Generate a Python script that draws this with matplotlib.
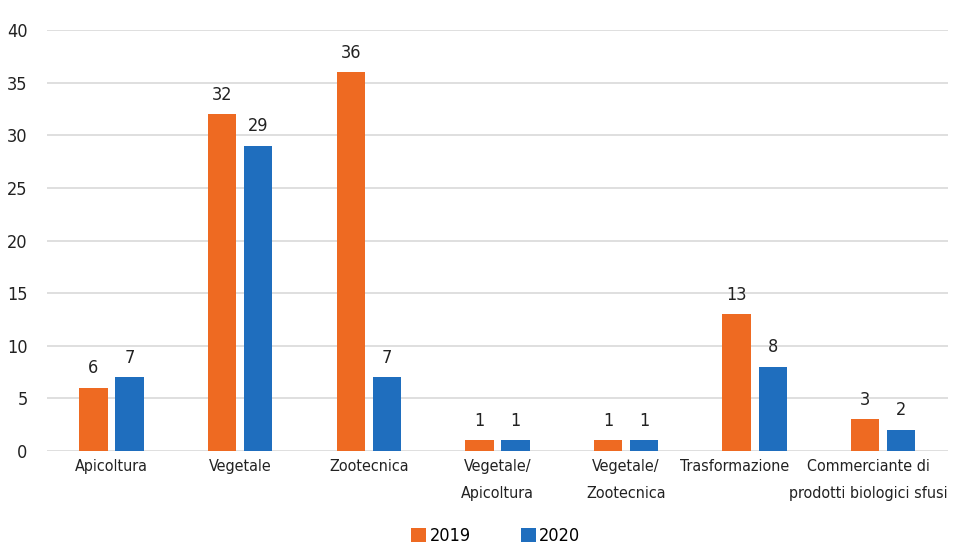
import matplotlib
matplotlib.use("Agg")
import matplotlib.pyplot as plt
import matplotlib.transforms as mtransforms
import numpy as np
from matplotlib import font_manager

categories = ["Apicoltura", "Vegetale", "Zootecnica", "Vegetale/\nApicoltura",
              "Vegetale/\nZootecnica", "Trasformazione",
              "Commerciante di\nprodotti biologici sfusi"]
values_2019 = [6, 32, 36, 1, 1, 13, 3]
values_2020 = [7, 29, 7, 1, 1, 8, 2]
series_labels = ["2019", "2020"]
y_ticks = [0, 5, 10, 15, 20, 25, 30, 35, 40]

condensed = [f for f in font_manager.fontManager.ttflist
             if f.name == "DejaVu Sans" and f.stretch == "condensed" and f.style == "normal"]
if condensed:
    fp_path = sorted(condensed, key=lambda f: str(f.weight))[0].fname
    font = font_manager.FontProperties(fname=fp_path)
else:
    font = font_manager.FontProperties(family="DejaVu Sans")
FS = 13

orange = "#EE6A22"
blue = "#1F6EBE"
text_col = "#222222"

fig = plt.figure(figsize=(9.63, 5.51), dpi=100)
ax = fig.add_axes([0.049, 0.1815, 0.935, 0.764])

x = np.arange(len(categories))
w = 0.22
gap = 0.06
b1 = ax.bar(x - (w + gap) / 2, values_2019, width=w, color=orange, label=series_labels[0], zorder=3)
b2 = ax.bar(x + (w + gap) / 2, values_2020, width=w, color=blue, label=series_labels[1], zorder=3)

for bars, vals in ((b1, values_2019), (b2, values_2020)):
    for r, v in zip(bars, vals):
        ax.text(r.get_x() + r.get_width() / 2, v + 1.0, str(v), ha="center", va="bottom",
                fontproperties=font, fontsize=FS, color=text_col)

ax.set_xlim(-0.5, len(categories) - 0.5)
ax.set_ylim(0, 40)
ax.set_yticks(y_ticks)
ax.set_yticklabels([str(t) for t in y_ticks], fontproperties=font, fontsize=FS, color=text_col)
ax.set_xticks(x)
ax.set_xticklabels(categories, fontproperties=font, fontsize=11.5, color=text_col, linespacing=2.0)
ax.tick_params(axis="both", length=0)
ax.tick_params(axis="y", pad=14)
ax.tick_params(axis="x", pad=6)
ax.grid(axis="y", color="#d9d9d9", linewidth=1.2, zorder=0)
for s in ax.spines.values():
    s.set_visible(False)

# the two rightmost labels are nudged left so they do not collide
labels = ax.get_xticklabels()
for lab, dx in ((labels[-2], -0.2), (labels[-1], -0.15)):
    lab.set_transform(lab.get_transform() +
                      mtransforms.ScaledTranslation(dx, 0, fig.dpi_scale_trans))

leg_font = font.copy()
leg_font.set_size(FS)
fig.legend(handles=[b1, b2], labels=series_labels, loc="lower center",
           bbox_to_anchor=(0.515, -0.012), ncol=2, frameon=False, prop=leg_font,
           handlelength=0.8, handleheight=0.8, handletextpad=0.2, columnspacing=2.8,
           borderpad=0.2)

fig.savefig("out.png", dpi=100, facecolor="white")
